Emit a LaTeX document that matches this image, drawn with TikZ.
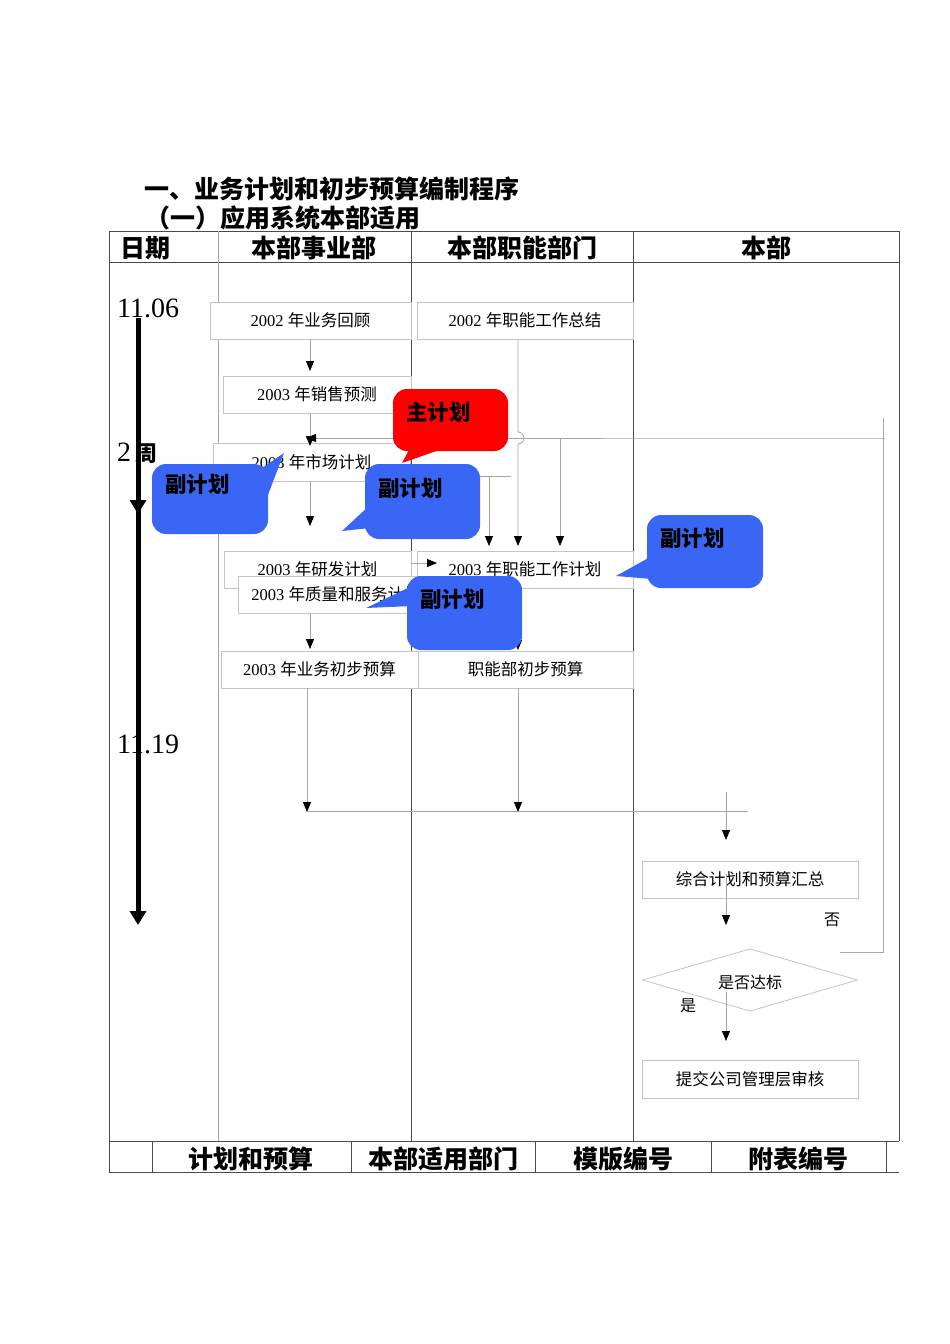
\documentclass[tikz,border=0pt]{standalone}
\usepackage{fontspec}
\setmainfont{Liberation Serif}
\newfontfamily\zh{Noto Sans CJK SC}
\usetikzlibrary{arrows.meta,calc,shapes.geometric}
\definecolor{cblue}{HTML}{3A66F5}
\definecolor{cred}{HTML}{FF0000}
\definecolor{boxgray}{HTML}{C4C4C4}
\definecolor{linegray}{HTML}{A6A6A6}
\definecolor{tabline}{HTML}{4A4A4A}
\tikzset{
  box/.style={draw=boxgray, fill=white, line width=0.8pt, inner sep=0pt, outer sep=0pt, font=\fontsize{16.5}{19}\selectfont},
  conn/.style={draw=linegray, line width=0.8pt, -{Triangle[width=8pt,length=10pt,color=black]}},
  plain/.style={draw=linegray, line width=0.8pt},
  tab/.style={draw=tabline, line width=0.9pt},
  tabl/.style={draw=linegray, line width=0.9pt},
  head/.style={font=\zh\bfseries\fontsize{25}{29}\selectfont, inner sep=0pt},
  calltxt/.style={font=\zh\bfseries\fontsize{21.5}{25}\selectfont, inner sep=0pt, anchor=west},
  callb/.style={fill=cblue, rounded corners=14pt, inner sep=0pt, outer sep=0pt, anchor=north west},
  callr/.style={fill=cred, rounded corners=14pt, inner sep=0pt, outer sep=0pt, anchor=north west},
  small/.style={font=\zh\fontsize{16}{19}\selectfont, inner sep=0pt},
  datelbl/.style={font=\fontsize{28}{32}\selectfont, inner sep=0pt, anchor=west},
}
\begin{document}
\begin{tikzpicture}[x=1pt,y=-1pt]
\useasboundingbox (0,0) rectangle (950,1344);

% titles
\node[head, anchor=west] (t1) at (144,189) {一、业务计划和初步预算编制程序};
\node[head, anchor=west] (t2) at (145,218) {（一）应用系统本部适用};

% table
\draw[tab] (109,231) -- (899,231);
\draw[tab] (109,262) -- (899,262);
\draw[tab] (109,231) -- (109,1172);
\draw[tab] (899,231) -- (899,1141);
\draw[tabl] (218,231) -- (218,1141);
\draw[tab] (411,231) -- (411,1141);
\draw[tab] (633,231) -- (633,1141);
\draw[tab] (109,1141) -- (899,1141);
\draw[tab] (109,1172) -- (899,1172);
\foreach \xx in {152,351,535,711,886} \draw[tab] (\xx,1141) -- (\xx,1172);

\node[head, anchor=west] (h1) at (120,248) {日期};
\node[head] (h2) at (314,248) {本部事业部};
\node[head] (h3) at (522,248) {本部职能部门};
\node[head] (h4) at (766,248) {本部};

\node[head] (f1) at (251,1159) {计划和预算};
\node[head] (f2) at (443,1159) {本部适用部门};
\node[head] (f3) at (623,1159) {模版编号};
\node[head] (f4) at (798,1159) {附表编号};

% date labels
\node[datelbl] (d1) at (117,308) {11.06};
\node[datelbl] (d2) at (117,453) {2\,{\zh\bfseries\fontsize{22}{26}\selectfont 周}};
\node[datelbl] (d3) at (117,744) {11.19};

% boxes
\node[box, minimum width=201pt, minimum height=37pt, anchor=north west] (A) at (210,302) {2002 {\zh 年业务回顾}};
\node[box, minimum width=216pt, minimum height=37pt, anchor=north west] (B) at (417,302) {2002 {\zh 年职能工作总结}};
\node[box, minimum width=188pt, minimum height=37pt, anchor=north west] (C) at (223,376) {2003 {\zh 年销售预测}};
\node[box, minimum width=197pt, minimum height=38pt, anchor=north west] (D) at (213,443) {2003 {\zh 年市场计划}};
\node[box, minimum width=187pt, minimum height=37pt, anchor=north west] (E) at (224,551) {2003 {\zh 年研发计划}};
\node[box, minimum width=216pt, minimum height=37pt, anchor=north west] (F) at (417,551) {2003 {\zh 年职能工作计划}};
\node[box, minimum width=196pt, minimum height=37pt, anchor=north west] (G) at (238,576) {2003 {\zh 年质量和服务计划}};
\node[box, minimum width=197pt, minimum height=37pt, anchor=north west] (H) at (221,651) {2003 {\zh 年业务初步预算}};
\node[box, minimum width=215pt, minimum height=37pt, anchor=north west] (I) at (418,651) {\zh 职能部初步预算};
\node[box, minimum width=216pt, minimum height=37pt, anchor=north west] (S) at (642,861) {\zh 综合计划和预算汇总};
\node[box, shape=diamond, minimum width=215pt, minimum height=62pt, aspect=3.4] (Q) at (750,980) {};
\node[small] (Qt) at (750,982) {是否达标};
\node[box, minimum width=216pt, minimum height=38pt, anchor=north west] (R) at (642,1060) {\zh 提交公司管理层审核};
\node[small] (yes) at (688,1006) {是};
\node[small] (no) at (832,920) {否};

% connectors (business column)
\draw[conn] (A.south -| 310,0) -- (310,371);
\draw[conn] (C.south -| 310,0) -- (310,446);
\draw[conn] (D.south -| 310,0) -- (310,526);
\draw[conn] (G.south -| 310,0) -- (310,649);
\draw[conn] (H.south -| 307,0) -- (307,812);
\draw[conn] (I.south -| 518,0) -- (518,812);
\draw[plain] (307,811) -- (748,811);
\draw[conn] (E.east |- 0,563) -- (437,563);

% functional column
\draw[conn] (B.south -| 518,0) -- (518,432) arc[start angle=90,end angle=-90,radius=6pt] -- (518,546);
\draw[plain] (D.east |- 0,476) -- (511,476);
\draw[conn] (489,476) -- (489,546);
\draw[conn] (560,438) -- (560,546);
\draw[conn] (F.south -| 518,0) -- (518,650);

% HQ column
\coordinate (s0) at (726,792);
\draw[conn] (s0) -- (726,840);
\draw[conn] (726,874) -- (726,925);
\draw[conn] (726,992) -- (726,1041);
% loop back (否)
\coordinate (lp0) at (840,952);
\draw[plain] (883,438) -- (883,418);
\draw[conn] (lp0) -- (883,952) -- (883,438) -- (885,438) -- (306,438);

% timeline
\draw[line width=5pt, -{Triangle[width=16pt,length=14pt]}] (138,318) -- (138,514);
\draw[line width=5pt, -{Triangle[width=16pt,length=14pt]}] (138,505) -- (138,925);

% callouts
\fill[cred] (402,463) -- (410,448) -- (445,448) -- cycle;
\node[callr, minimum width=115pt, minimum height=62pt] (cr) at (393,389) {};
\node[calltxt] at (406,412) {主计划};

\fill[cblue] (284,453) -- (262,468) -- (266,500) -- cycle;
\node[callb, minimum width=116pt, minimum height=70pt] (cb1) at (152,464) {};
\node[calltxt] at (165,484) {副计划};

\fill[cblue] (342,531) -- (370,505) -- (370,528) -- cycle;
\node[callb, minimum width=115pt, minimum height=75pt] (cb2) at (365,464) {};
\node[calltxt] at (378,488) {副计划};

\fill[cblue] (616,576) -- (652,556) -- (652,579) -- cycle;
\node[callb, minimum width=116pt, minimum height=73pt] (cb3) at (647,515) {};
\node[calltxt] at (660,538) {副计划};

\fill[cblue] (366,608) -- (412,586) -- (412,606) -- cycle;
\node[callb, minimum width=115pt, minimum height=74pt] (cb4) at (407,576) {};
\node[calltxt] at (420,599) {副计划};
\end{tikzpicture}
\end{document}
